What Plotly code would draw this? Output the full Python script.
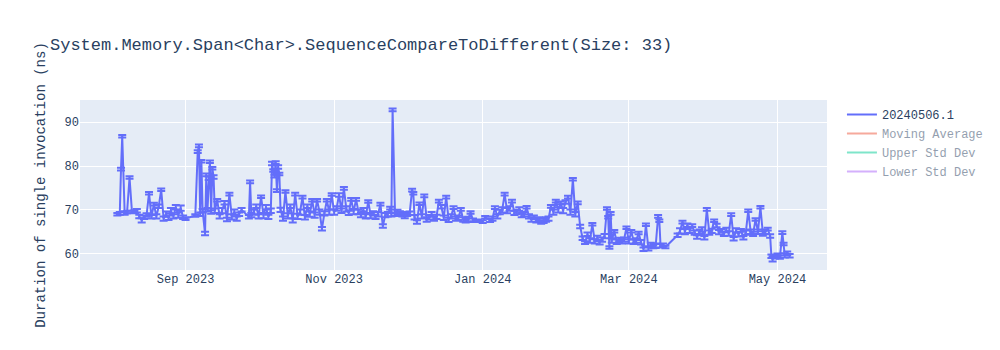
import plotly.graph_objects as go
import pandas as pd

TITLE = "System.Memory.Span<Char>.SequenceCompareToDifferent(Size: 33)"
Y_TITLE = "Duration of single invocation (ns)"
SERIES_NAME = "20240506.1"

dates = [
    "2023-08-04", "2023-08-05", "2023-08-05 12:00", "2023-08-06", "2023-08-07", "2023-08-08", "2023-08-09", "2023-08-10", "2023-08-11",
    "2023-08-12", "2023-08-13", "2023-08-14", "2023-08-15", "2023-08-16", "2023-08-17", "2023-08-18", "2023-08-19", "2023-08-20", "2023-08-21",
    "2023-08-22", "2023-08-23", "2023-08-24", "2023-08-25", "2023-08-26", "2023-08-27", "2023-08-28", "2023-08-29", "2023-08-30", "2023-08-31",
    "2023-09-01", "2023-09-05", "2023-09-06", "2023-09-06 12:00", "2023-09-07", "2023-09-07 12:00", "2023-09-08", "2023-09-09", "2023-09-09 12:00", "2023-09-10",
    "2023-09-10 12:00", "2023-09-11", "2023-09-11 12:00", "2023-09-12", "2023-09-12 12:00", "2023-09-13", "2023-09-14", "2023-09-15", "2023-09-16", "2023-09-17",
    "2023-09-18", "2023-09-19", "2023-09-20", "2023-09-21", "2023-09-22", "2023-09-23", "2023-09-24", "2023-09-27", "2023-09-27 12:00", "2023-09-28",
    "2023-09-29", "2023-09-30", "2023-10-01", "2023-10-02", "2023-10-03", "2023-10-04", "2023-10-05", "2023-10-06", "2023-10-06 12:00", "2023-10-07",
    "2023-10-07 12:00", "2023-10-08", "2023-10-08 12:00", "2023-10-09", "2023-10-09 12:00", "2023-10-10", "2023-10-11", "2023-10-12", "2023-10-13", "2023-10-14",
    "2023-10-15", "2023-10-16", "2023-10-17", "2023-10-18", "2023-10-19", "2023-10-20", "2023-10-21", "2023-10-22", "2023-10-23", "2023-10-24",
    "2023-10-25", "2023-10-26", "2023-10-27", "2023-10-28", "2023-10-29", "2023-10-30", "2023-10-31", "2023-11-01", "2023-11-02", "2023-11-03",
    "2023-11-04", "2023-11-05", "2023-11-06", "2023-11-07", "2023-11-08", "2023-11-09", "2023-11-10", "2023-11-11", "2023-11-12", "2023-11-13",
    "2023-11-14", "2023-11-15", "2023-11-16", "2023-11-17", "2023-11-18", "2023-11-19", "2023-11-20", "2023-11-21", "2023-11-22", "2023-11-23",
    "2023-11-24", "2023-11-24 12:00", "2023-11-25", "2023-11-26", "2023-11-27", "2023-11-28", "2023-11-29", "2023-11-30", "2023-12-01", "2023-12-02",
    "2023-12-03", "2023-12-03 12:00", "2023-12-04", "2023-12-05", "2023-12-06", "2023-12-07", "2023-12-08", "2023-12-09", "2023-12-10", "2023-12-11",
    "2023-12-12", "2023-12-13", "2023-12-14", "2023-12-15", "2023-12-16", "2023-12-17", "2023-12-18", "2023-12-19", "2023-12-20", "2023-12-21",
    "2023-12-22", "2023-12-23", "2023-12-24", "2023-12-25", "2023-12-26", "2023-12-27", "2023-12-28", "2023-12-30", "2024-01-01", "2024-01-02",
    "2024-01-04", "2024-01-05", "2024-01-06", "2024-01-07", "2024-01-08", "2024-01-09", "2024-01-10", "2024-01-11", "2024-01-12", "2024-01-13",
    "2024-01-14", "2024-01-15", "2024-01-16", "2024-01-17", "2024-01-18", "2024-01-19", "2024-01-20", "2024-01-21", "2024-01-22", "2024-01-23",
    "2024-01-24", "2024-01-25", "2024-01-26", "2024-01-27", "2024-01-28", "2024-01-29", "2024-01-30", "2024-01-31", "2024-02-01", "2024-02-02",
    "2024-02-03", "2024-02-04", "2024-02-05", "2024-02-06", "2024-02-07", "2024-02-08", "2024-02-09", "2024-02-10", "2024-02-11", "2024-02-12",
    "2024-02-13", "2024-02-14", "2024-02-15", "2024-02-16", "2024-02-17", "2024-02-18", "2024-02-19", "2024-02-20", "2024-02-21", "2024-02-21 12:00",
    "2024-02-22", "2024-02-22 12:00", "2024-02-23", "2024-02-24", "2024-02-25", "2024-02-26", "2024-02-27", "2024-02-28", "2024-02-29", "2024-03-01",
    "2024-03-02", "2024-03-03", "2024-03-04", "2024-03-05", "2024-03-06", "2024-03-07", "2024-03-08", "2024-03-09", "2024-03-10", "2024-03-11",
    "2024-03-12", "2024-03-13", "2024-03-13 12:00", "2024-03-14", "2024-03-15", "2024-03-16", "2024-03-21", "2024-03-22", "2024-03-23", "2024-03-24",
    "2024-03-25", "2024-03-26", "2024-03-27", "2024-03-28", "2024-03-29", "2024-03-30", "2024-03-31", "2024-04-01", "2024-04-02", "2024-04-03",
    "2024-04-04", "2024-04-05", "2024-04-06", "2024-04-07", "2024-04-08", "2024-04-09", "2024-04-10", "2024-04-11", "2024-04-12", "2024-04-13",
    "2024-04-14", "2024-04-15", "2024-04-16", "2024-04-17", "2024-04-18", "2024-04-19", "2024-04-20", "2024-04-21", "2024-04-22", "2024-04-23",
    "2024-04-24", "2024-04-25", "2024-04-26", "2024-04-27", "2024-04-28", "2024-04-28 12:00", "2024-04-29", "2024-04-30", "2024-05-01", "2024-05-02",
    "2024-05-03", "2024-05-03 12:00", "2024-05-04", "2024-05-05", "2024-05-06",
]

durations_ns = [
    69.0, 69.2, 79.3, 86.8, 69.3, 69.5, 77.4, 69.5, 69.6,
    69.8, 68.5, 67.6, 68.3, 68.8, 73.8, 68.4, 71.3, 68.5, 70.8,
    74.6, 68.0, 69.0, 68.2, 69.8, 68.5, 70.6, 68.8, 70.4, 68.3,
    68.0, 68.7, 83.3, 84.6, 69.0, 81.1, 69.8, 64.6, 78.0, 70.0,
    77.2, 81.0, 69.5, 79.5, 77.5, 69.8, 72.2, 68.5, 69.8, 71.6,
    67.8, 73.6, 68.4, 69.5, 68.0, 69.0, 70.0, 68.4, 76.4, 68.8,
    69.5, 70.8, 68.5, 73.0, 68.7, 70.6, 68.4, 69.8, 80.6, 79.0,
    77.7, 80.8, 74.4, 79.8, 78.2, 70.0, 68.0, 74.2, 68.6, 70.8,
    67.6, 73.6, 68.5, 69.5, 72.9, 68.3, 70.8, 69.0, 72.2, 68.8,
    72.2, 69.5, 65.7, 69.2, 72.2, 69.5, 73.5, 69.5, 70.3, 73.4,
    69.8, 74.9, 70.2, 69.3, 72.4, 69.6, 72.4, 69.5, 68.8, 70.0,
    68.5, 71.9, 68.7, 69.2, 68.4, 69.0, 71.3, 66.3, 68.8, 69.0,
    70.4, 68.9, 92.85, 69.0, 69.5, 69.2, 69.0, 68.6, 69.0, 69.2,
    74.5, 73.8, 68.3, 67.2, 71.4, 68.5, 73.2, 67.8, 68.3, 69.0,
    68.0, 68.4, 72.0, 70.7, 68.2, 72.9, 67.7, 68.5, 70.5, 68.0,
    68.2, 70.1, 67.8, 67.5, 67.9, 69.4, 67.6, 67.5, 67.3, 68.3,
    67.6, 68.0, 70.5, 68.5, 69.5, 70.0, 73.6, 69.8, 70.3, 72.0,
    69.3, 69.5, 70.2, 68.8, 69.0, 70.6, 68.5, 67.8, 68.3, 67.5,
    67.8, 67.2, 67.5, 67.8, 68.0, 70.8, 69.5, 72.0, 70.0, 71.6,
    69.8, 71.8, 72.9, 69.5, 77.0, 69.0, 71.6, 66.2, 63.5, 62.5,
    64.4, 63.0, 66.7, 62.8, 63.5, 62.6, 63.2, 64.0, 70.3, 68.3,
    61.4, 69.2, 63.0, 65.1, 62.7, 63.1, 62.8, 63.2, 65.9, 62.8,
    65.1, 62.7, 63.0, 64.7, 62.6, 61.0, 66.6, 61.2, 62.0, 61.6,
    61.8, 68.5, 67.5, 61.8, 62.0, 61.5, 64.2, 65.2, 67.2, 65.0,
    66.5, 65.3, 66.4, 64.8, 63.8, 65.0, 65.5, 63.6, 70.1, 64.8,
    65.2, 67.5, 66.4, 64.9, 65.3, 64.5, 65.4, 64.6, 68.9, 63.4,
    65.3, 64.4, 65.3, 63.6, 64.8, 69.8, 65.0, 64.5, 67.8, 65.0,
    70.6, 64.6, 65.0, 65.6, 64.0, 59.4, 58.8, 59.3, 59.6, 59.2,
    64.8, 62.2, 59.6, 60.1, 59.5,
]

std_dev_ns = [
    0.3, 0.3, 0.3, 0.3, 0.4, 0.3, 0.3, 0.3, 0.3,
    0.4, 0.4, 0.5, 0.4, 0.4, 0.3, 0.4, 0.3, 0.5, 0.4,
    0.3, 0.5, 0.6, 0.5, 0.6, 0.5, 0.5, 0.6, 0.6, 0.4,
    0.3, 0.3, 0.3, 0.3, 0.4, 0.3, 0.4, 0.4, 0.3, 0.4,
    0.4, 0.3, 0.4, 0.3, 0.4, 0.5, 0.3, 0.5, 0.6, 0.4,
    0.4, 0.3, 0.6, 0.6, 0.5, 0.4, 0.4, 0.4, 0.3, 0.5,
    0.6, 0.4, 0.5, 0.3, 0.6, 0.5, 0.5, 0.5, 0.4, 0.3,
    0.3, 0.3, 0.3, 0.4, 0.3, 0.5, 0.5, 0.3, 0.6, 0.4,
    0.5, 0.3, 0.6, 0.6, 0.3, 0.5, 0.4, 0.6, 0.3, 0.6,
    0.3, 0.6, 0.4, 0.5, 0.3, 0.6, 0.3, 0.6, 0.5, 0.4,
    0.5, 0.3, 0.6, 0.5, 0.3, 0.6, 0.3, 0.5, 0.5, 0.4,
    0.5, 0.3, 0.6, 0.5, 0.5, 0.5, 0.3, 0.4, 0.5, 0.5,
    0.3, 0.4, 0.3, 0.4, 0.5, 0.5, 0.5, 0.5, 0.4, 0.4,
    0.3, 0.3, 0.5, 0.4, 0.3, 0.5, 0.3, 0.5, 0.5, 0.5,
    0.5, 0.5, 0.3, 0.4, 0.5, 0.3, 0.5, 0.5, 0.3, 0.5,
    0.5, 0.3, 0.5, 0.4, 0.5, 0.3, 0.4, 0.3, 0.3, 0.3,
    0.4, 0.5, 0.3, 0.5, 0.5, 0.6, 0.3, 0.6, 0.5, 0.3,
    0.5, 0.5, 0.4, 0.5, 0.5, 0.3, 0.5, 0.5, 0.4, 0.4,
    0.5, 0.4, 0.5, 0.5, 0.5, 0.3, 0.6, 0.3, 0.6, 0.3,
    0.6, 0.4, 0.3, 0.6, 0.3, 0.5, 0.3, 0.4, 0.4, 0.3,
    0.4, 0.5, 0.3, 0.5, 0.6, 0.5, 0.5, 0.5, 0.3, 0.3,
    0.3, 0.3, 0.5, 0.3, 0.5, 0.5, 0.5, 0.5, 0.3, 0.5,
    0.3, 0.5, 0.5, 0.3, 0.5, 0.4, 0.3, 0.5, 0.5, 0.4,
    0.5, 0.3, 0.3, 0.4, 0.3, 0.3, 0.4, 0.6, 0.3, 0.6,
    0.4, 0.6, 0.3, 0.5, 0.4, 0.5, 0.5, 0.4, 0.3, 0.5,
    0.5, 0.3, 0.4, 0.5, 0.3, 0.5, 0.5, 0.5, 0.3, 0.4,
    0.5, 0.5, 0.3, 0.4, 0.5, 0.3, 0.5, 0.5, 0.3, 0.5,
    0.3, 0.5, 0.5, 0.3, 0.4, 0.4, 0.6, 0.4, 0.4, 0.4,
    0.3, 0.3, 0.5, 0.4, 0.4,
]

if not (len(dates) == len(durations_ns) == len(std_dev_ns)):
    raise ValueError(f"length mismatch {len(dates)} {len(durations_ns)} {len(std_dev_ns)}")

df = pd.DataFrame({
    "date": pd.to_datetime(dates, format="ISO8601"),
    "value": durations_ns,
    "std": std_dev_ns,
})
moving_avg = df["value"].rolling(window=10, min_periods=1).mean()
moving_std = df["value"].rolling(window=10, min_periods=1).std().fillna(0)

FONT = "Courier New, Liberation Mono, monospace"

fig = go.Figure()
fig.add_trace(go.Scatter(
    x=df["date"], y=df["value"], mode="lines", name=SERIES_NAME,
    error_y=dict(type="data", array=df["std"], visible=True),
))
fig.add_trace(go.Scatter(x=df["date"], y=moving_avg, mode="lines",
                         name="Moving Average", visible="legendonly"))
fig.add_trace(go.Scatter(x=df["date"], y=moving_avg + 2 * moving_std, mode="lines",
                         name="Upper Std Dev", visible="legendonly"))
fig.add_trace(go.Scatter(x=df["date"], y=moving_avg - 2 * moving_std, mode="lines",
                         name="Lower Std Dev", visible="legendonly"))

fig.update_layout(
    title=dict(text=TITLE),
    font=dict(family=FONT),
    yaxis=dict(title=dict(text=Y_TITLE)),
    width=1000, height=350,
)

fig.write_html("out.html")
